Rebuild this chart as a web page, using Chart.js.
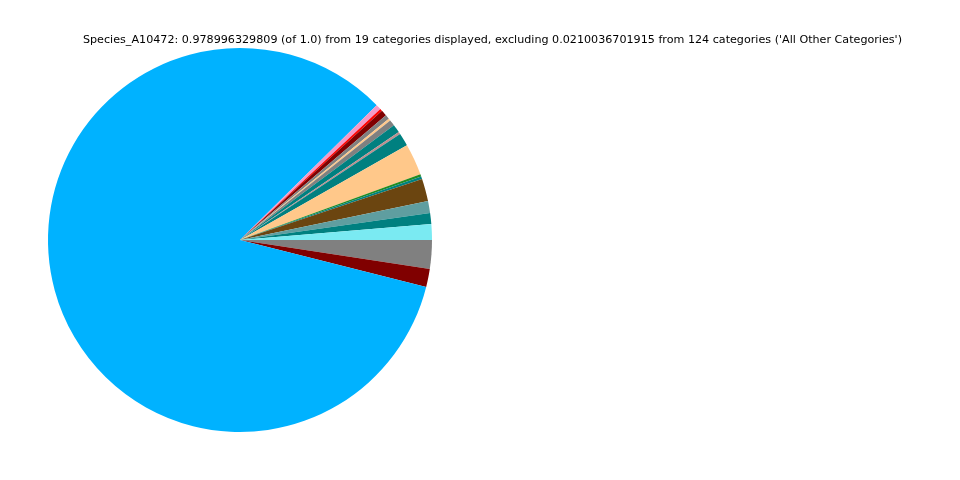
<!DOCTYPE html>
<html lang="en">
<head>
    <meta charset="UTF-8">
    <title>Species_A10472</title>
    <script src="https://cdn.jsdelivr.net/npm/chart.js"></script>
    <style>
        body {
            margin: 0;
            background-color: #ffffff;
        }
        #wrap {
            width: 960px;
            height: 480px;
        }
    </style>
</head>
<body>
    <div id="wrap"><canvas id="pieChart"></canvas></div>
    <script>
        // categories in matplotlib order (counter-clockwise from 3 o'clock)
        const categories = [
            'cat01', 'cat02', 'cat03', 'cat04', 'cat05', 'cat06', 'cat07', 'cat08', 'cat09', 'cat10',
            'cat11', 'cat12', 'cat13', 'cat14', 'cat15', 'cat16', 'Species_A10472', 'cat18', 'cat19'
        ];
        const values = [
            0.01305, 0.00897, 0.00979, 0.01849, 0.00218, 0.00190, 0.02611, 0.01061, 0.00190, 0.00680,
            0.00490, 0.00190, 0.00354, 0.00490, 0.00190, 0.00435, 0.81900, 0.01480, 0.02366
        ];
        const sliceColors = [
            '#7aeaf2', '#008080', '#5f9ea0', '#6b4510', '#008080', '#228b22', '#ffc88a', '#008080', '#bc8f8f', '#008080',
            '#808080', '#ffc88a', '#808080', '#800000', '#ff0000', '#f49ac8', '#00b2ff', '#800000', '#808080'
        ];
        const titleText = "Species_A10472: 0.978996329809 (of 1.0) from 19 categories displayed, excluding 0.0210036701915 from 124 categories ('All Other Categories')";

        // Chart.js draws clockwise, matplotlib counter-clockwise: reverse
        const labels = categories.slice().reverse();
        const data = values.slice().reverse();
        const colors = sliceColors.slice().reverse();

        const titlePlugin = {
            id: 'plainTitle',
            afterDraw(chart) {
                const c = chart.ctx;
                c.save();
                c.font = '11.15px "DejaVu Sans", sans-serif';
                c.fillStyle = '#000000';
                c.textAlign = 'center';
                c.textBaseline = 'middle';
                c.fillText(titleText, 492.5, 40);
                c.restore();
            }
        };

        const ctx = document.getElementById('pieChart').getContext('2d');
        new Chart(ctx, {
            type: 'pie',
            data: {
                labels: labels,
                datasets: [{
                    data: data,
                    backgroundColor: colors,
                    borderWidth: 0
                }]
            },
            options: {
                responsive: true,
                maintainAspectRatio: false,
                animation: false,
                rotation: 90,
                layout: {
                    padding: { left: 48, right: 528, top: 48, bottom: 48 }
                },
                plugins: {
                    legend: { display: false },
                    tooltip: { enabled: false },
                    title: { display: false }
                }
            },
            plugins: [titlePlugin]
        });
    </script>
</body>
</html>
